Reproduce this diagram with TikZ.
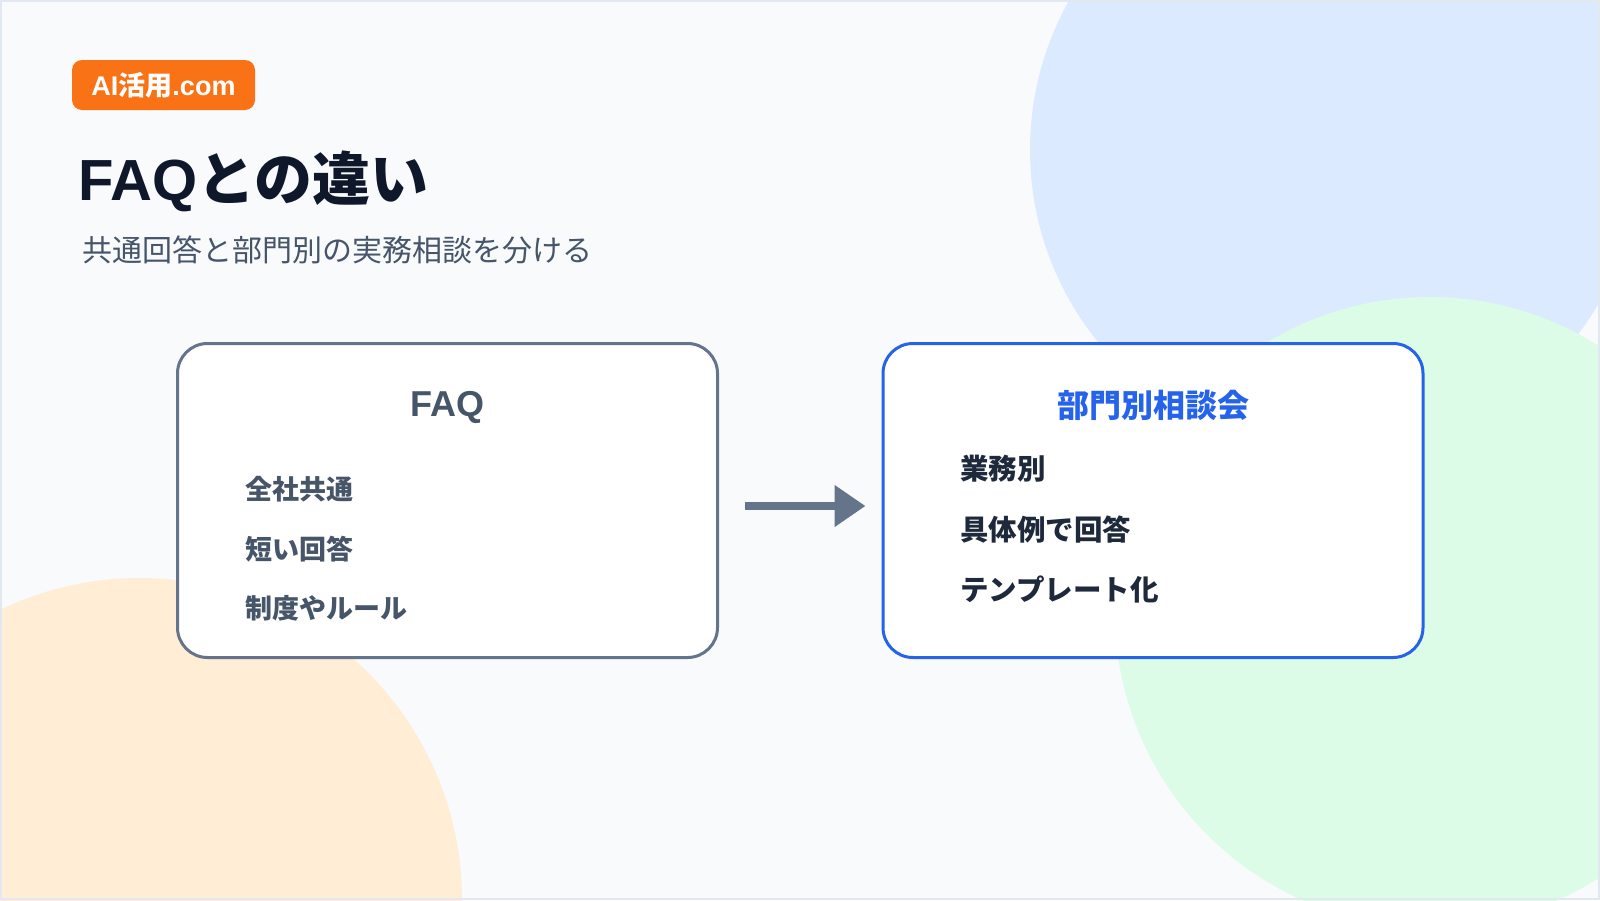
\documentclass[tikz,border=0pt]{standalone}
\usepackage{fontspec}
\setmainfont{Liberation Sans}
\newfontfamily\jpfont{Noto Sans CJK JP}
\usepackage{tikz}
\usetikzlibrary{arrows.meta, positioning}
\definecolor{pagebg}{HTML}{F8FAFC}
\definecolor{pageframe}{HTML}{E2E8F0}
\definecolor{bubbleblue}{HTML}{DBEAFE}
\definecolor{bubblegreen}{HTML}{DCFCE7}
\definecolor{bubbleorange}{HTML}{FFEDD5}
\definecolor{accent}{HTML}{F97316}
\definecolor{ink}{HTML}{0F172A}
\definecolor{inksoft}{HTML}{1E293B}
\definecolor{slatetext}{HTML}{475569}
\definecolor{slateline}{HTML}{64748B}
\definecolor{brand}{HTML}{2563EB}

\begin{document}
\begin{tikzpicture}[
  x=1pt, y=-1pt,
  card/.style={
    draw, fill=white, line width=3pt, rounded corners=30pt,
    minimum width=540pt, minimum height=314pt,
  },
  faqcard/.style={card, draw=slateline},
  deptcard/.style={card, draw=brand},
  badge/.style={
    fill=accent, rounded corners=10pt, minimum width=183pt, minimum height=50pt,
    text=white, font=\bfseries\fontsize{27}{30}\selectfont, inner sep=0pt,
  },
  head/.style={font=\bfseries\fontsize{36}{40}\selectfont, inner sep=0pt},
  item/.style={anchor=west, inner sep=0pt, font=\jpfont\bfseries\fontsize{27}{32}\selectfont},
  flow/.style={-{Triangle[length=31pt, width=40pt]}, line width=8pt, draw=slateline},
]
\useasboundingbox (0,0) rectangle (1600,900);

% Background and soft circles
\fill[pagebg] (0,0) rectangle (1600,900);
\begin{scope}
  \clip (0,0) rectangle (1600,900);
  \fill[bubbleblue]   (1335,150) circle[radius=305];
  \fill[bubblegreen]  (1430,612) circle[radius=315];
  \fill[bubbleorange] (140,900)  circle[radius=322];
\end{scope}
\draw[pageframe, line width=2pt] (1,1) rectangle (1599,899);

% Header
\node[badge] (badge) at (163.5,85) {AI{\jpfont 活用}.com};
\node[anchor=base west, inner sep=0pt, text=ink, font=\bfseries\fontsize{58}{70}\selectfont]
  (title) at (78,200) {FAQ{\jpfont との違い}};
\node[anchor=west, inner sep=0pt, text=slatetext, font=\jpfont\fontsize{30}{34}\selectfont]
  (subtitle) at (82,250) {共通回答と部門別の実務相談を分ける};

% Cards
\node[faqcard]  (faq)  at (447.5,500.5) {};
\node[deptcard] (dept) at (1153,500.5)  {};

\node[head, text=slatetext] (faqhead)  at (447.5,407) {FAQ};
\node[head, text=brand, font=\jpfont\bfseries\fontsize{32}{40}\selectfont]
  (depthead) at (1153,405) {部門別相談会};

% Items (left: FAQ, right: department)
\foreach \y/\t [count=\i] in {489/全社共通, 549/短い回答, 608/制度やルール} {
  \node[item, text=slatetext] (faqitem\i) at (245,\y) {\t};
}
\foreach \y/\t [count=\i] in {469/業務別, 530/具体例で回答, 589/テンプレート化} {
  \node[item, text=inksoft, font=\jpfont\bfseries\fontsize{28.5}{32}\selectfont]
    (deptitem\i) at (960,\y) {\t};
}

% Arrow between the cards
\draw[flow, shorten <=25.5pt, shorten >=16pt]
  ([yshift=-5.5pt]faq.east) -- ([yshift=-5.5pt]dept.west);

\end{tikzpicture}
\end{document}
